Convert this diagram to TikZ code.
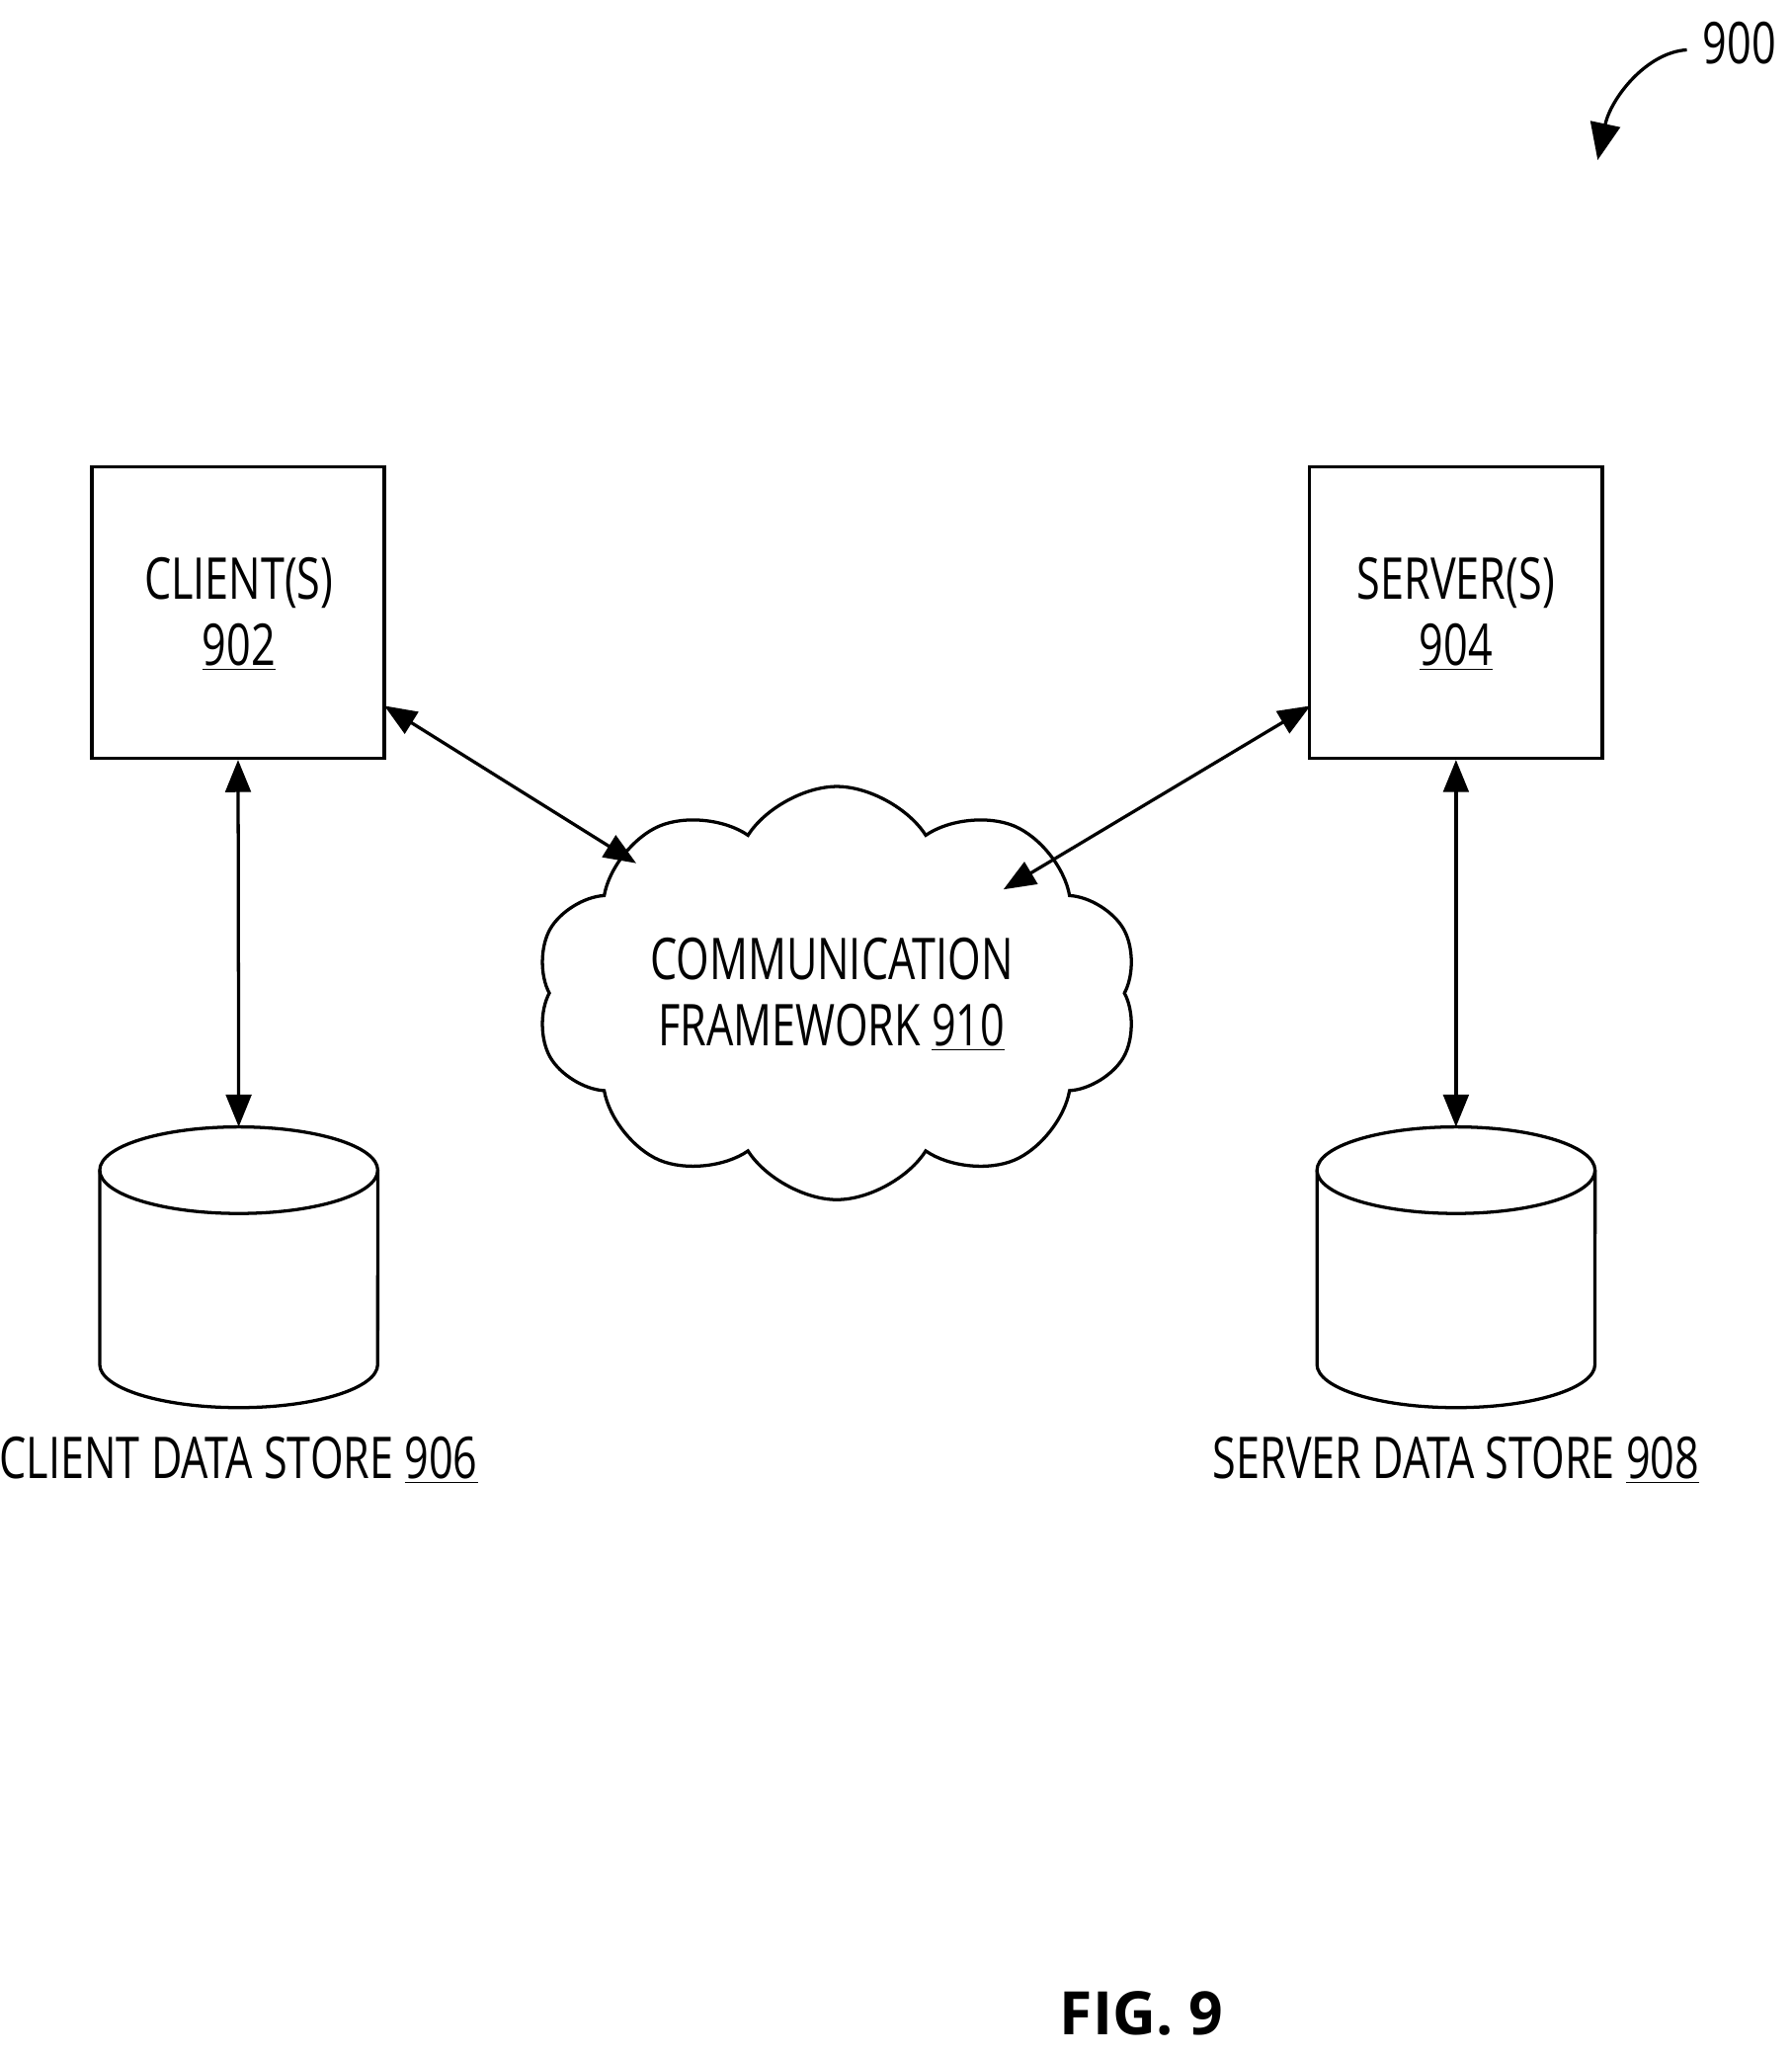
\documentclass[tikz,border=0pt]{standalone}
\usepackage{fontspec}
\setmainfont{Open Sans}[FakeStretch=0.74]
\newfontfamily\figfont{Open Sans}[BoldFont={* Bold}]
\usetikzlibrary{arrows.meta,shapes.symbols}
\begin{document}
\begin{tikzpicture}[x=0.02cm,y=-0.02cm,
  line width=1.4pt,
  lbl/.style={font=\fontsize{25}{28.5}\selectfont,align=center,inner sep=0pt},
  box/.style={draw,minimum width=4.46cm,minimum height=4.44cm,inner sep=0pt},
  arr/.style={{Triangle[length=14pt,width=11pt]}-{Triangle[length=14pt,width=11pt]}}]
\useasboundingbox (0,0) rectangle (1366,1568);
\node[box] (client) at (181.5,467) {};
\node[lbl] (clienttxt) at (182,468) {CLIENT(S)\\\underline{902}};
\node[box] (server) at (1110,467) {};
\node[lbl] (servertxt) at (1110,468) {SERVER(S)\\\underline{904}};
\node[draw,cloud,cloud puffs=10,cloud puff arc=115,aspect=1.5,minimum width=9.2cm,minimum height=6.3cm,inner sep=0pt] (cloud) at (638,757) {};
\node[lbl] (cloudtxt) at (634,758) {COMMUNICATION\\FRAMEWORK \underline{910}};
% cylinders
\coordinate (ctop) at (182,859);
\coordinate (stop) at (1110,859);
\draw (76,892) -- (76,1040) arc[start angle=180,end angle=360,x radius=2.12cm,y radius=0.66cm] -- (288,892);
\draw (182,892) ellipse[x radius=2.12cm,y radius=0.66cm];
\draw (1004,892) -- (1004,1040) arc[start angle=180,end angle=360,x radius=2.12cm,y radius=0.66cm] -- (1216,892);
\draw (1110,892) ellipse[x radius=2.12cm,y radius=0.66cm];
\node[lbl] (cds) at (182,1113) {CLIENT DATA STORE \underline{906}};
\node[lbl] (sds) at (1110,1113) {SERVER DATA STORE \underline{908}};
% arrows
\coordinate (c1) at (293,538);
\coordinate (k1) at (485,658);
\coordinate (s1) at (999,538);
\coordinate (k2) at (765,678);
\draw[arr] (c1) -- (k1);
\draw[arr] (s1) -- (k2);
\draw[arr] (client.south) -- (ctop);
\draw[arr] (server.south) -- (stop);
% ref
\node[lbl] (ref) at (1326,33) {900};
\coordinate (r1) at (1286,38);
\coordinate (r2) at (1218,122);
\draw[-{Triangle[length=16pt,width=13pt]}] (r1) .. controls (1255,40) and (1228,75) .. (r2);
\node[font=\figfont\bfseries\fontsize{26}{32}\selectfont,inner sep=0pt] (fig) at (870,1535) {FIG. 9};
\end{tikzpicture}
\end{document}
